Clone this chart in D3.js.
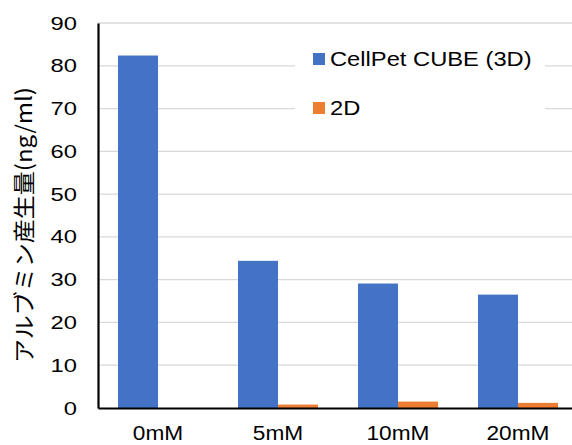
<!DOCTYPE html>
<html><head><meta charset="utf-8">
<script src="https://cdn.jsdelivr.net/npm/d3@7"></script>
<style>body{margin:0;background:#fff}svg{display:block}</style>
</head><body>
<svg id="c" width="572" height="445"></svg>
<script>
const categories = ["0mM", "5mM", "10mM", "20mM"];
const seriesNames = ["CellPet CUBE (3D)", "2D"];
const cube3D = [82.4, 34.4, 29.1, 26.5];
const twoD = [0, 0.8, 1.5, 1.2];
const yTicks = [0, 10, 20, 30, 40, 50, 60, 70, 80, 90];
const colors = ["#4472C4", "#ED7D31"];
const yTitle = "アルブミン産生量(ng/ml)";

(function () {
const svg = d3.select("#c");
const font = "'Liberation Sans', Arial, sans-serif";
const pL = 98, pR = 578, pT = 23, pB = 408;

const x0 = d3.scaleBand().domain(categories).range([pL, pR]).paddingInner(1/3).paddingOuter(1/6);
const x1 = d3.scaleBand().domain(seriesNames).range([0, x0.bandwidth()]);
const y = d3.scaleLinear().domain([0, 90]).range([pB, pT]);

// gridlines
svg.append("g").selectAll("line").data(yTicks.filter(d => d > 0)).join("line")
  .attr("x1", pL).attr("x2", 572).attr("y1", d => y(d)).attr("y2", d => y(d))
  .attr("stroke", "#D9D9D9").attr("stroke-width", 1.3);

// legend background (covers gridlines)
svg.append("rect").attr("x", 295).attr("y", 38).attr("width", 250).attr("height", 90).attr("fill", "#fff");

// bars
const data = [cube3D, twoD];
seriesNames.forEach((s, si) => {
  svg.append("g").selectAll("rect").data(categories).join("rect")
    .attr("x", c => x0(c) + x1(s))
    .attr("width", x1.bandwidth())
    .attr("y", (c, i) => y(data[si][i]))
    .attr("height", (c, i) => y(0) - y(data[si][i]))
    .attr("fill", colors[si]);
});

// y axis
const gy = svg.append("g").attr("transform", `translate(${pL},0)`)
  .call(d3.axisLeft(y).tickValues(yTicks).tickSize(0).tickPadding(21));
gy.select(".domain").attr("stroke", "#000").attr("stroke-width", 2.2);
gy.selectAll(".tick text").attr("font-family", font).attr("font-size", 19).attr("fill", "#000")
  .each(function () {
    d3.select(this).attr("x", -21 / 1.25).attr("transform", "scale(1.25,1)");
  });

// x axis
const gx = svg.append("g").attr("transform", `translate(0,${pB})`)
  .call(d3.axisBottom(x0).tickSize(0).tickPadding(0));
gx.select(".domain").attr("stroke", "#000").attr("stroke-width", 2.2);
gx.selectAll(".tick text").attr("font-family", font).attr("font-size", 21).attr("fill", "#000")
  .attr("y", 25).attr("dy", "0.35em").attr("transform", "scale(1.08,1)");

// y title
svg.append("text")
  .attr("transform", `translate(32,225) rotate(-90)`)
  .attr("text-anchor", "middle")
  .attr("font-family", "'Noto Sans CJK JP', sans-serif")
  .attr("font-size", 22)
  .attr("textLength", 276).attr("lengthAdjust", "spacingAndGlyphs")
  .text(yTitle);

// legend
const legY = [59, 108];
seriesNames.forEach((s, i) => {
  svg.append("rect").attr("x", 313).attr("y", legY[i] - 6).attr("width", 12).attr("height", 12).attr("fill", colors[i]);
  svg.append("text").attr("x", 330 / 1.13).attr("y", legY[i]).attr("dy", "0.35em")
    .attr("transform", "scale(1.13,1)")
    .attr("font-family", font).attr("font-size", 21).attr("fill", "#000").text(s);
});
})();
</script>
</body></html>
